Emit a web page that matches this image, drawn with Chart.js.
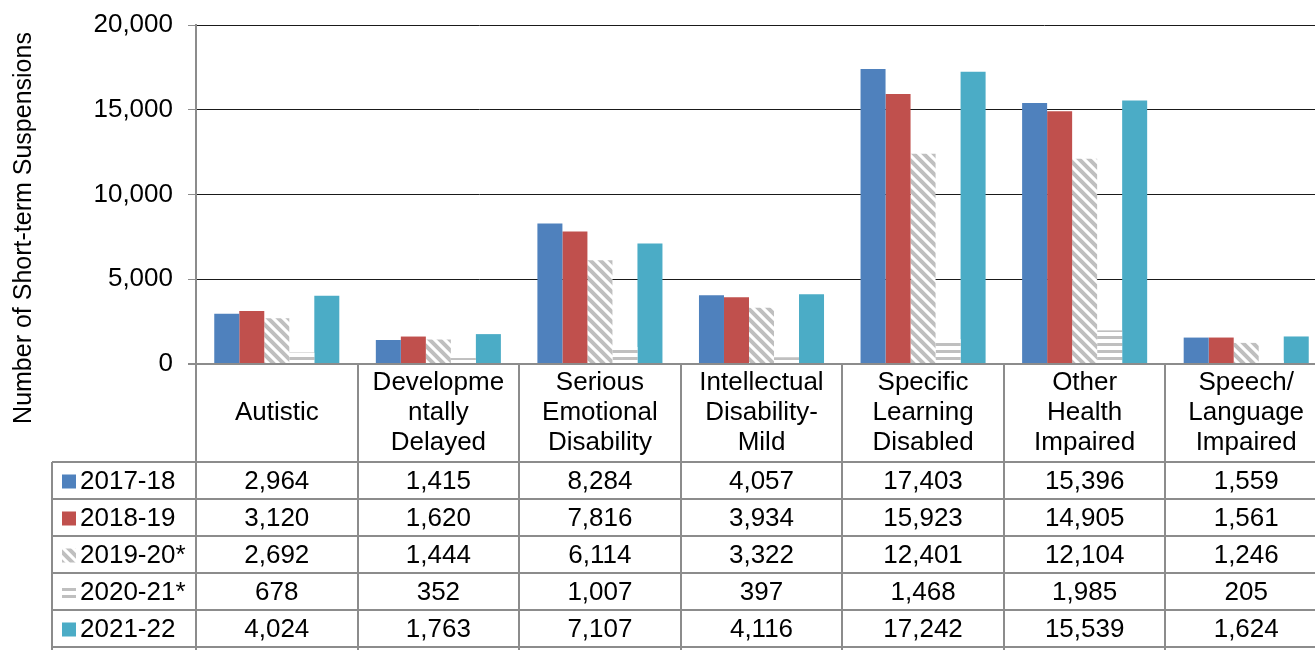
<!DOCTYPE html>
<html>
<head>
<meta charset="utf-8">
<script src="https://cdn.jsdelivr.net/npm/chart.js@4/dist/chart.umd.min.js"></script>
<style>
  html, body { margin: 0; padding: 0; background: #fff; overflow: hidden; }
  canvas { display: block; }
</style>
</head>
<body>
<canvas id="grafico" width="1327" height="650"></canvas>
<script>
const categorias = [
    'Autistic',
    ['Developme', 'ntally', 'Delayed'],
    ['Serious', 'Emotional', 'Disability'],
    ['Intellectual', 'Disability-', 'Mild'],
    ['Specific', 'Learning', 'Disabled'],
    ['Other', 'Health', 'Impaired'],
    ['Speech/', 'Language', 'Impaired']
];
const periodos = ['2017-18', '2018-19', '2019-20*', '2020-21*', '2021-22'];
const valores2017 = [2964, 1415, 8284, 4057, 17403, 15396, 1559];
const valores2018 = [3120, 1620, 7816, 3934, 15923, 14905, 1561];
const valores2019 = [2692, 1444, 6114, 3322, 12401, 12104, 1246];
const valores2020 = [678, 352, 1007, 397, 1468, 1985, 205];
const valores2021 = [4024, 1763, 7107, 4116, 17242, 15539, 1624];
const ticksY = [0, 5000, 10000, 15000, 20000];
const tituloY = 'Number of Short-term Suspensions';

const FUENTE = "'Liberation Sans', Arial, sans-serif";
const GRIS_TABLA = '#8c8c8c';

const canvas = document.getElementById('grafico');
const ctx = canvas.getContext('2d');

// Tramas grises para los años con asterisco
function patronDiagonal() {
    const c = document.createElement('canvas');
    c.width = 10; c.height = 10;
    const g = c.getContext('2d');
    g.fillStyle = '#fff';
    g.fillRect(0, 0, 10, 10);
    g.strokeStyle = '#bfbfbf';
    g.lineWidth = 4;
    g.beginPath();
    g.moveTo(-3, -3); g.lineTo(13, 13);
    g.moveTo(-3, 7); g.lineTo(3, 13);
    g.moveTo(7, -3); g.lineTo(13, 3);
    g.stroke();
    return ctx.createPattern(c, 'repeat');
}

function patronHorizontal() {
    const c = document.createElement('canvas');
    c.width = 8; c.height = 7;
    const g = c.getContext('2d');
    g.fillStyle = '#fff';
    g.fillRect(0, 0, 8, 7);
    g.fillStyle = '#bfbfbf';
    g.fillRect(0, 0, 8, 3);
    return ctx.createPattern(c, 'repeat');
}

const colores = ['#4f81bd', '#c0504d', patronDiagonal(), patronHorizontal(), '#4bacc6'];
const series = [valores2017, valores2018, valores2019, valores2020, valores2021];

// Tabla de datos dibujada bajo el eje, alineada con la escala x
const tablaPlugin = {
    id: 'tabla',
    afterDraw(chart) {
        const c = chart.ctx;
        const area = chart.chartArea;
        const x = chart.scales.x;
        const anchoCol = (area.right - area.left) / categorias.length;
        const topeFilas = 462, altoFila = 37, izqLeyenda = 52;

        c.save();
        c.fillStyle = '#000';
        c.font = '26px ' + FUENTE;
        c.textAlign = 'center';
        c.textBaseline = 'middle';

        // nombres de las categorías
        const centroCab = (area.bottom + topeFilas) / 2;
        categorias.forEach((cat, i) => {
            const lineas = Array.isArray(cat) ? cat : [cat];
            const cx = x.getPixelForValue(i);
            lineas.forEach((l, j) => {
                c.fillText(l, cx, centroCab + (j - (lineas.length - 1) / 2) * 30);
            });
        });

        // filas con valores y leyenda
        chart.data.datasets.forEach((ds, f) => {
            const cy = topeFilas + altoFila * f + altoFila / 2;
            c.fillStyle = '#000';
            c.textAlign = 'center';
            ds.data.forEach((v, i) => {
                c.fillText(v.toLocaleString('en-US'), x.getPixelForValue(i), cy + 1);
            });
            c.fillStyle = ds.backgroundColor;
            c.fillRect(62, cy - 6, 14, 14);
            c.fillStyle = '#000';
            c.textAlign = 'left';
            c.fillText(ds.label, 80, cy + 1);
        });

        // líneas de la tabla
        c.strokeStyle = GRIS_TABLA;
        c.lineWidth = 2;
        c.beginPath();
        c.moveTo(area.left - 8, area.bottom);
        c.lineTo(area.right, area.bottom);
        for (let k = 0; k <= periodos.length; k++) {
            const y = topeFilas + k * altoFila;
            c.moveTo(izqLeyenda, y);
            c.lineTo(area.right, y);
        }
        c.moveTo(izqLeyenda, topeFilas);
        c.lineTo(izqLeyenda, chart.height);
        for (let i = 0; i <= categorias.length; i++) {
            const xx = Math.round(area.left + i * anchoCol);
            c.moveTo(xx, area.bottom);
            c.lineTo(xx, chart.height);
        }
        c.stroke();

        // título del eje y
        c.translate(24, 228);
        c.rotate(-Math.PI / 2);
        c.textAlign = 'center';
        c.font = '25px ' + FUENTE;
        c.fillText(tituloY, 0, 0);
        c.restore();
    }
};

function crearGrafico() {
    Chart.defaults.font.family = FUENTE;
    Chart.defaults.font.size = 26;
    Chart.defaults.color = '#000';

    new Chart(ctx, {
        type: 'bar',
        data: {
            labels: categorias.map((c, i) => i),
            datasets: periodos.map((p, i) => ({
                label: p,
                data: series[i],
                backgroundColor: colores[i],
                borderWidth: 0,
                categoryPercentage: 0.774,
                barPercentage: 1
            }))
        },
        options: {
            responsive: false,
            animation: false,
            layout: { padding: { top: 25, right: 0, bottom: 0, left: 0 } },
            plugins: {
                legend: { display: false },
                tooltip: { enabled: false }
            },
            scales: {
                x: {
                    grid: { display: false },
                    border: { color: GRIS_TABLA, width: 2 },
                    ticks: { display: false },
                    afterFit: s => { s.height = 286; }
                },
                y: {
                    min: 0,
                    max: 20000,
                    afterBuildTicks: s => { s.ticks = ticksY.map(v => ({ value: v })); },
                    afterFit: s => { s.width = 196; s.paddingTop = 0; s.paddingBottom = 0; },
                    grid: { color: '#1a1a1a', lineWidth: 1, tickColor: GRIS_TABLA, tickLength: 8 },
                    border: { color: GRIS_TABLA, width: 2 },
                    ticks: {
                        padding: 15,
                        callback: v => v.toLocaleString('en-US')
                    }
                }
            }
        },
        plugins: [tablaPlugin]
    });
}

document.addEventListener('DOMContentLoaded', function() {
    crearGrafico();
});
</script>
</body>
</html>
